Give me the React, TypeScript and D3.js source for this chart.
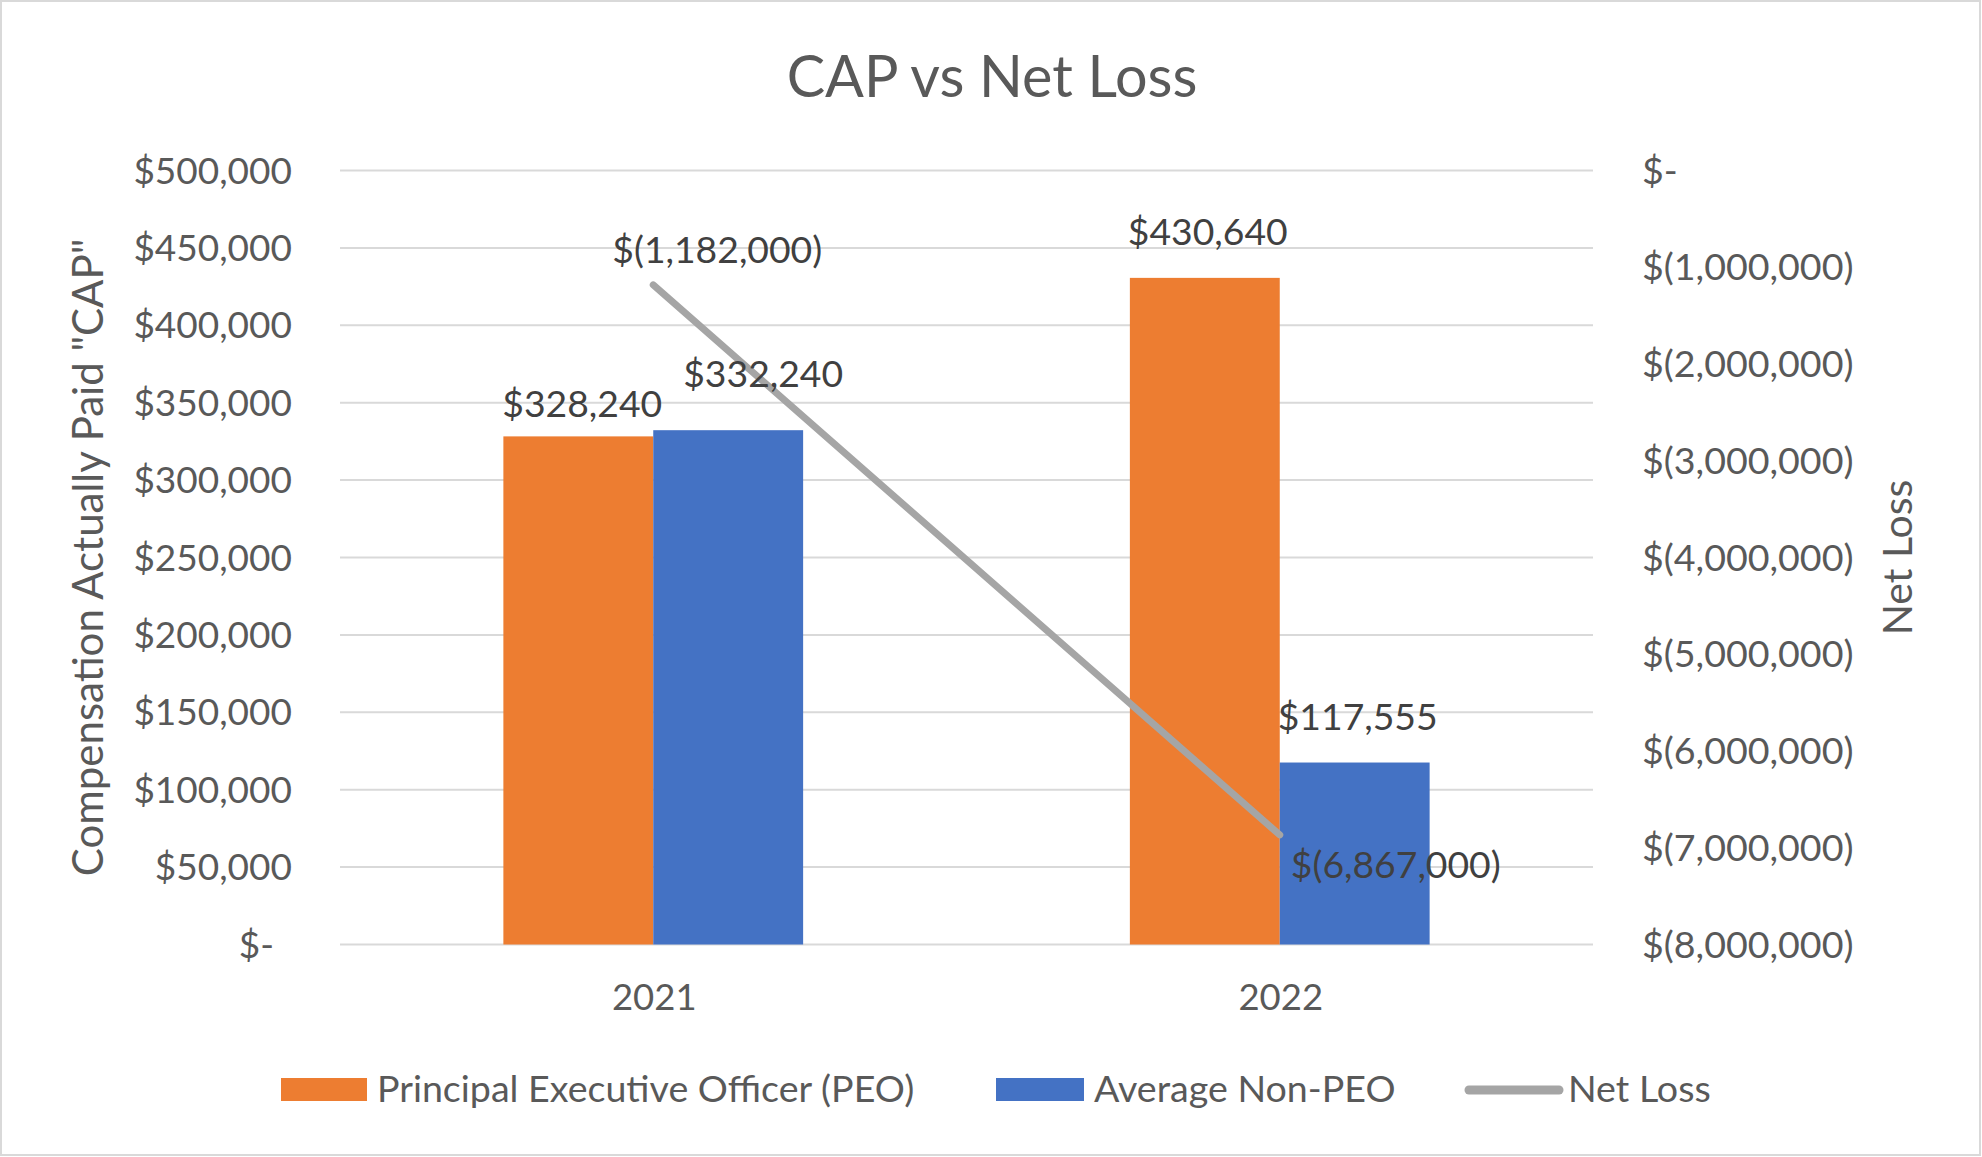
import * as d3 from "d3";

// chart values
const years = ["2021", "2022"];
const peoCap = [328240, 430640];
const nonPeoCap = [332240, 117555];
const netLoss = [-1182000, -6867000];
const leftTicks = [0, 50000, 100000, 150000, 200000, 250000, 300000, 350000, 400000, 450000, 500000];
const rightTicks = [0, -1000000, -2000000, -3000000, -4000000, -5000000, -6000000, -7000000, -8000000];

const W = 1982;
const H = 1157;
const FONT = "Lato, 'Noto Sans', sans-serif";
const ORANGE = "#ED7D31";
const BLUE = "#4472C4";
const GRAY = "#A5A5A5";
const TEXT = "#595959";
const LABEL = "#404040";

const fmt = d3.format(",");
const leftFmt = (v: number) => (v === 0 ? "$-" : "$" + fmt(v));
const rightFmt = (v: number) => (v === 0 ? "$-" : "$(" + fmt(-v) + ")");

export default function App() {
  const plotLeft = 340;
  const plotRight = 1593;
  const plotTop = 170.5;
  const plotBottom = 944.5;

  const x = d3.scaleBand<string>().domain(years).range([plotLeft, plotRight]).padding(0);
  const yLeft = d3.scaleLinear().domain([0, 500000]).range([plotBottom, plotTop]);
  const yRight = d3.scaleLinear().domain([-8000000, 0]).range([plotBottom, plotTop]);

  // Excel-style gap width of ~218%
  const barW = x.bandwidth() / (2 + 2.18);
  const cx = (yr: string) => (x(yr) ?? 0) + x.bandwidth() / 2;

  const line = d3
    .line<number>()
    .x((_, i) => cx(years[i]))
    .y((d) => yRight(d));

  // label nudges (Excel labels were dragged a bit on 2021)
  const peoNudge = [
    [4, -19],
    [3, -33],
  ];
  const nonPeoNudge = [
    [35, -43],
    [3, -33],
  ];
  const lossNudge = [
    [64, -22],
    [116, 43],
  ];

  return (
    <div style={{ position: "absolute", left: 0, top: 0 }}>
      <svg width={W} height={H} style={{ display: "block", fontFamily: FONT }}>
        <rect x={1} y={1} width={W - 3} height={H - 3} fill="#fff" stroke="#D9D9D9" strokeWidth={2} />

        <text x={992} y={97} textAnchor="middle" fontSize={57.5} fill={TEXT}>
          CAP vs Net Loss
        </text>

        {/* gridlines */}
        {leftTicks.map((t) => (
          <line key={t} x1={plotLeft} x2={plotRight} y1={yLeft(t)} y2={yLeft(t)} stroke="#D9D9D9" strokeWidth={2} />
        ))}

        {/* left axis labels (accounting format: "$-" sits left of the digits' edge) */}
        {leftTicks.map((t) => (
          <text
            key={t}
            x={t === 0 ? 274 : 292}
            y={yLeft(t) + 13}
            textAnchor="end"
            fontSize={37}
            fill={TEXT}
          >
            {leftFmt(t)}
          </text>
        ))}

        {/* right axis labels */}
        {rightTicks.map((t) => (
          <text key={t} x={1642} y={yRight(t) + 13} textAnchor="start" fontSize={37.6} fill={TEXT}>
            {rightFmt(t)}
          </text>
        ))}

        <text
          transform={`translate(103,${(plotTop + plotBottom) / 2}) rotate(-90)`}
          textAnchor="middle"
          fontSize={42}
          fill={TEXT}
        >
          Compensation Actually Paid "CAP"
        </text>
        <text
          transform={`translate(1912,${(plotTop + plotBottom) / 2}) rotate(-90)`}
          textAnchor="middle"
          fontSize={41}
          fill={TEXT}
        >
          Net Loss
        </text>

        {/* bars */}
        {years.map((yr, i) => (
          <g key={yr}>
            <rect
              x={cx(yr) - barW}
              y={yLeft(peoCap[i])}
              width={barW}
              height={plotBottom - yLeft(peoCap[i])}
              fill={ORANGE}
            />
            <rect
              x={cx(yr)}
              y={yLeft(nonPeoCap[i])}
              width={barW}
              height={plotBottom - yLeft(nonPeoCap[i])}
              fill={BLUE}
            />
          </g>
        ))}

        {/* x labels */}
        {years.map((yr) => (
          <text key={yr} x={cx(yr) + 1} y={1010} textAnchor="middle" fontSize={36.5} fill={TEXT}>
            {yr}
          </text>
        ))}

        {/* net loss line */}
        <path d={line(netLoss) ?? ""} fill="none" stroke={GRAY} strokeWidth={7} strokeLinecap="round" />

        {/* data labels */}
        {years.map((yr, i) => (
          <g key={yr} fontSize={37.3} fill={LABEL} textAnchor="middle">
            <text x={cx(yr) - barW / 2 + peoNudge[i][0]} y={yLeft(peoCap[i]) + peoNudge[i][1]}>
              {"$" + fmt(peoCap[i])}
            </text>
            <text x={cx(yr) + barW / 2 + nonPeoNudge[i][0]} y={yLeft(nonPeoCap[i]) + nonPeoNudge[i][1]}>
              {"$" + fmt(nonPeoCap[i])}
            </text>
            <text x={cx(yr) + lossNudge[i][0]} y={yRight(netLoss[i]) + lossNudge[i][1]}>
              {rightFmt(netLoss[i])}
            </text>
          </g>
        ))}

        {/* legend */}
        <g fontSize={37.6} fill={TEXT}>
          <rect x={281} y={1078} width={86} height={23} fill={ORANGE} />
          <text x={377} y={1102}>Principal Executive Officer (PEO)</text>
          <rect x={996} y={1078} width={88} height={23} fill={BLUE} />
          <text x={1094} y={1102}>Average Non-PEO</text>
          <line x1={1469} x2={1559} y1={1090} y2={1090} stroke={GRAY} strokeWidth={9} strokeLinecap="round" />
          <text x={1568} y={1102}>Net Loss</text>
        </g>
      </svg>
    </div>
  );
}
